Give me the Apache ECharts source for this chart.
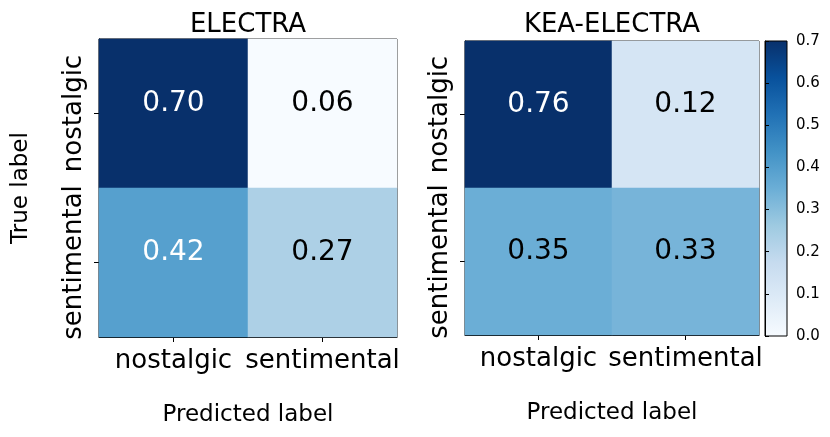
<!DOCTYPE html>
<html>
<head>
    <meta charset="utf-8">
    <script src="https://cdn.jsdelivr.net/npm/echarts@6/dist/echarts.min.js"></script>
</head>
<body style="margin: 0; background: #fff">
    <div id="container" style="width: 830px; height: 437px;"></div>
    <script type="text/javascript">
    // class names (rows = true label, columns = predicted label)
    var predLabels = ['nostalgic', 'sentimental'];
    var trueLabels = ['nostalgic', 'sentimental'];
    // normalized confusion matrices
    var electra = [[0.70, 0.06], [0.42, 0.27]];
    var keaElectra = [[0.76, 0.12], [0.35, 0.33]];
    // colorbar range / ticks
    var cbMin = 0, cbMax = 0.7, cbStep = 0.1;

    var blues = ['#f7fbff', '#deebf7', '#c6dbef', '#9ecae1', '#6baed6',
                 '#4292c6', '#2171b5', '#08519c', '#08306b'];
    var font = 'DejaVu Sans';

    // turn a matrix into heatmap items, label white on the dark half
    function toCells(m) {
        var mx = Math.max.apply(null, m[0].concat(m[1]));
        var out = [];
        for (var r = 0; r < m.length; r++) {
            for (var c = 0; c < m[r].length; c++) {
                out.push({
                    value: [c, r, m[r][c]],
                    label: { color: m[r][c] > mx / 2 ? '#fff' : '#000' }
                });
            }
        }
        return out;
    }
    function flat(m) { return m[0].concat(m[1]); }

    var grids = [
        { left: 99, top: 39, width: 298, height: 298 },
        { left: 465, top: 41, width: 294, height: 294 }
    ];

    var dom = document.getElementById('container');
    var myChart = echarts.init(dom);

    function catX(i) {
        return {
            type: 'category', gridIndex: i, data: predLabels,
            name: 'Predicted label', nameLocation: 'middle', nameGap: 67,
            nameTextStyle: { fontSize: 23, fontFamily: font, color: '#000' },
            axisLine: { show: true, lineStyle: { color: '#000', width: 1 } },
            axisTick: { show: true, alignWithLabel: true, length: 5, lineStyle: { color: '#000' } },
            axisLabel: { fontSize: 26, fontFamily: font, color: '#000', margin: 11, interval: 0 },
            splitLine: { show: false }
        };
    }
    function catY(i, withName) {
        return {
            type: 'category', gridIndex: i, data: trueLabels, inverse: true,
            name: withName ? 'True label' : '', nameLocation: 'middle', nameGap: 66,
            nameTextStyle: { fontSize: 23, fontFamily: font, color: '#000' },
            axisLine: { show: true, lineStyle: { color: '#000', width: 1 } },
            axisTick: { show: true, alignWithLabel: true, length: 5, lineStyle: { color: '#000' } },
            axisLabel: { fontSize: 26, fontFamily: font, color: '#000', rotate: 90, margin: 12, interval: 0 },
            splitLine: { show: false }
        };
    }

    var cellLabel = {
        show: true, fontSize: 28, fontFamily: font, offset: [0, -10],
        formatter: function (p) { return p.value[2].toFixed(2); }
    };

    var option = {
        animation: false,
        backgroundColor: '#fff',
        title: [{
            text: 'ELECTRA', left: 248, top: 12, textAlign: 'center', padding: 0,
            textStyle: { fontSize: 26, fontWeight: 'normal', fontFamily: font, color: '#000' }
        }, {
            text: 'KEA-ELECTRA', left: 612, top: 12, textAlign: 'center', padding: 0,
            textStyle: { fontSize: 26, fontWeight: 'normal', fontFamily: font, color: '#000' }
        }],
        grid: [
            Object.assign({ show: true, borderColor: '#000', borderWidth: 1 }, grids[0]),
            Object.assign({ show: true, borderColor: '#000', borderWidth: 1 }, grids[1]),
            {
                show: true, borderColor: '#000', borderWidth: 1,
                left: 765, top: 41, width: 22, height: 295,
                backgroundColor: new echarts.graphic.LinearGradient(0, 1, 0, 0,
                    blues.map(function (c, i) { return { offset: i / (blues.length - 1), color: c }; }))
            }
        ],
        visualMap: [{
            show: false, seriesIndex: 0, dimension: 2,
            min: Math.min.apply(null, flat(electra)), max: Math.max.apply(null, flat(electra)),
            inRange: { color: blues }
        }, {
            show: false, seriesIndex: 1, dimension: 2,
            min: cbMin, max: cbMax,
            inRange: { color: blues }
        }],
        xAxis: [catX(0), catX(1), { type: 'value', gridIndex: 2, show: false }],
        yAxis: [catY(0, true), catY(1, false), {
            type: 'value', gridIndex: 2, position: 'right',
            min: cbMin, max: cbMax, interval: cbStep,
            axisLine: { show: true, lineStyle: { color: '#000' } },
            axisTick: { show: true, length: 4, lineStyle: { color: '#000' } },
            axisLabel: {
                fontSize: 15, fontFamily: font, color: '#000', margin: 9,
                formatter: function (v) { return v.toFixed(1); }
            },
            splitLine: { show: false }
        }],
        series: [{
            type: 'heatmap', xAxisIndex: 0, yAxisIndex: 0,
            data: toCells(electra),
            label: cellLabel,
            emphasis: { disabled: true }
        }, {
            type: 'heatmap', xAxisIndex: 1, yAxisIndex: 1,
            data: toCells(keaElectra),
            label: cellLabel,
            emphasis: { disabled: true }
        }]
    };

    myChart.setOption(option);
    </script>
</body>
</html>
